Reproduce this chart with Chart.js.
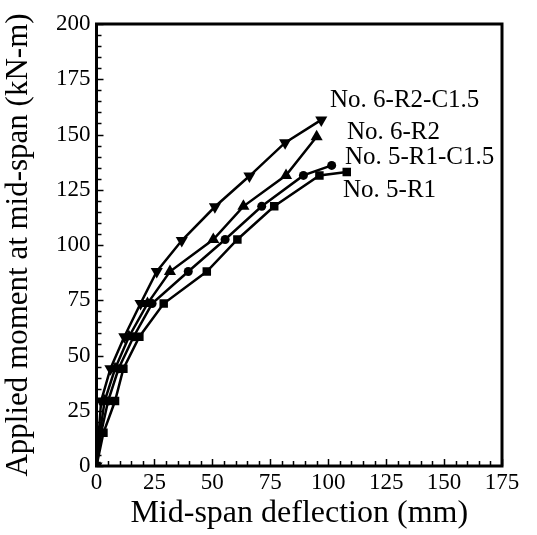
<!DOCTYPE html>
<html>
<head>
<meta charset="utf-8">
<script src="https://cdn.jsdelivr.net/npm/chart.js@4.4.1/dist/chart.umd.min.js"></script>
<style>
  html, body { margin: 0; padding: 0; background: #fff; }
  #wrap { width: 537px; height: 535px; }
</style>
</head>
<body>
<div id="wrap"><canvas id="c" width="537" height="535"></canvas></div>
<script>
// deflection (mm) / moment (kN-m)
var r1X   = [0, 3, 8, 11.6, 18.5, 29, 47.6, 60.8, 76.7, 96.2, 108];
var r1Y   = [0, 15, 29.4, 44, 58.5, 73.5, 88, 102.5, 117.5, 131.5, 133];
var r1cX  = [0, 2, 5, 9.5, 16, 24, 39.6, 55.5, 71.3, 89.3, 101.5];
var r1cY  = [0, 15, 29.4, 44, 58.5, 73.5, 88, 102.5, 117.5, 131.5, 136];
var r2X   = [0, 1.5, 3.5, 8, 14, 22, 31.7, 50.4, 63.4, 81.8, 95];
var r2Y   = [0, 15, 29.4, 44, 58.5, 73.5, 88, 102.5, 117.5, 131.5, 149];
var r2cX  = [0, 1, 2, 6, 12, 19, 26, 36.8, 51.1, 66, 81.4, 97];
var r2cY  = [0, 15, 29.4, 44, 58.5, 73.5, 88, 102, 117.3, 131.2, 146.3, 156.6];

var seriesNames = ['No. 5-R1', 'No. 5-R1-C1.5', 'No. 6-R2', 'No. 6-R2-C1.5'];
var xTicks = [0, 25, 50, 75, 100, 125, 150, 175];
var yTicks = [0, 25, 50, 75, 100, 125, 150, 175, 200];

function pts(xs, ys) {
    return xs.map(function (x, i) { return {x: x, y: ys[i]}; });
}

var serif = "'Liberation Serif', 'Times New Roman', serif";

// text labels next to the curve ends (in data units)
var labelSpots = [
    {text: seriesNames[3], x: 100.8, y: 165.6},
    {text: seriesNames[2], x: 108.1, y: 151},
    {text: seriesNames[1], x: 107.2, y: 139.4},
    {text: seriesNames[0], x: 106.4, y: 124.9}
];

var frame = {
    id: 'frame',
    afterDraw: function (chart) {
        var ctx = chart.ctx, a = chart.chartArea;
        var xs = chart.scales.x, ys = chart.scales.y;
        ctx.save();
        ctx.strokeStyle = '#000';
        ctx.lineWidth = 1.5;
        //inward ticks, minor every 5
        for (var v = 0; v <= 175; v += 5) {
            var px = Math.round(xs.getPixelForValue(v)) + 0.5;
            var len = (v % 25 === 0) ? 7 : 5;
            ctx.beginPath();
            ctx.moveTo(px, a.bottom);
            ctx.lineTo(px, a.bottom - len);
            ctx.stroke();
        }
        for (var w = 0; w <= 200; w += 5) {
            var py = Math.round(ys.getPixelForValue(w)) + 0.5;
            var l2 = (w % 25 === 0) ? 7 : 5;
            ctx.beginPath();
            ctx.moveTo(a.left, py);
            ctx.lineTo(a.left + l2, py);
            ctx.stroke();
        }
        ctx.lineWidth = 3;
        ctx.strokeRect(a.left, a.top, a.right - a.left, a.bottom - a.top);

        ctx.fillStyle = '#000';
        ctx.font = '25px ' + serif;
        ctx.textAlign = 'left';
        ctx.textBaseline = 'middle';
        labelSpots.forEach(function (s) {
            ctx.fillText(s.text, xs.getPixelForValue(s.x), ys.getPixelForValue(s.y));
        });
        ctx.restore();
    }
};

function ds(label, data, style, rot, size) {
    return {
        label: label,
        data: data,
        showLine: true,
        borderColor: '#000',
        backgroundColor: '#000',
        borderWidth: 2.5,
        pointStyle: style,
        pointRotation: rot || 0,
        pointRadius: size,
        pointBorderWidth: 0,
        tension: 0
    };
}

new Chart(document.getElementById('c'), {
    type: 'scatter',
    data: {
        datasets: [
            ds(seriesNames[0], pts(r1X, r1Y), 'rect', 0, 6),
            ds(seriesNames[1], pts(r1cX, r1cY), 'circle', 0, 4.5),
            ds(seriesNames[2], pts(r2X, r2Y), 'triangle', 0, 7),
            ds(seriesNames[3], pts(r2cX, r2cY), 'triangle', 180, 7)
        ]
    },
    options: {
        responsive: false,
        animation: false,
        layout: {padding: {top: 24, right: 35, left: 0, bottom: 0}},
        plugins: {legend: {display: false}, tooltip: {enabled: false}},
        scales: {
            x: {
                type: 'linear',
                min: 0, max: 175,
                afterBuildTicks: function (s) { s.ticks = xTicks.map(function (v) { return {value: v}; }); },
                afterFit: function (s) { s.height = 69; },
                grid: {display: false, drawTicks: false},
                border: {display: false},
                ticks: {color: '#000', font: {family: serif, size: 23}, padding: 3, maxRotation: 0},
                title: {display: true, text: 'Mid-span deflection (mm)', color: '#000',
                        font: {family: serif, size: 32}, padding: {top: 0, bottom: 2}}
            },
            y: {
                type: 'linear',
                min: 0, max: 200,
                afterBuildTicks: function (s) { s.ticks = yTicks.map(function (v) { return {value: v}; }); },
                afterFit: function (s) { s.width = 96.5; },
                grid: {display: false, drawTicks: false},
                border: {display: false},
                ticks: {color: '#000', font: {family: serif, size: 23}, padding: 6},
                title: {display: true, text: 'Applied moment at mid-span (kN-m)', color: '#000',
                        font: {family: serif, size: 31}, padding: {top: 0, bottom: 0}}
            }
        }
    },
    plugins: [frame]
});
</script>
</body>
</html>
